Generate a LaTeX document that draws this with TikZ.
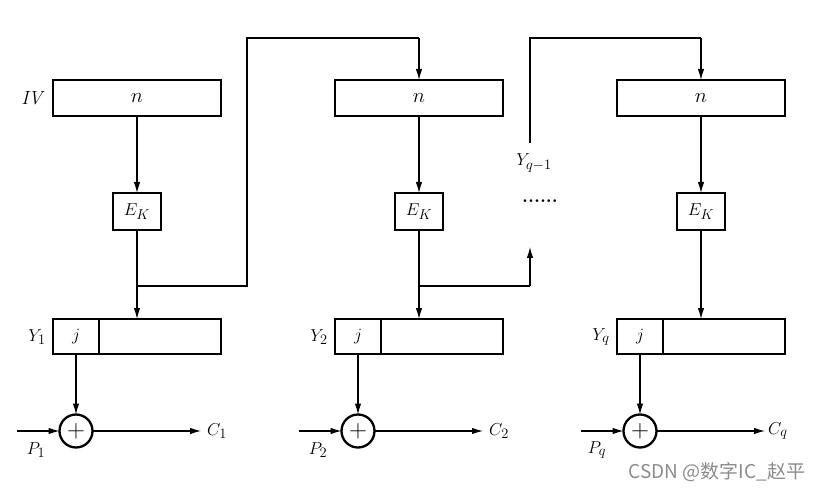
\documentclass[tikz,border=0pt]{standalone}
\usepackage{fontspec}
\newfontfamily\cjk{Noto Sans CJK SC}
\usetikzlibrary{arrows.meta}
\begin{document}
\begin{tikzpicture}[x=1pt,y=-1pt,
  font=\fontsize{19}{22}\selectfont,
  tbox/.style={draw, line width=2.3pt, inner sep=0pt, outer sep=0pt},
  nbox/.style={tbox, minimum width=168pt, minimum height=36pt, font=\fontsize{21}{24}\selectfont},
  ebox/.style={tbox, minimum width=48pt, minimum height=37pt},
  jbox/.style={tbox, minimum width=46pt, minimum height=35pt},
  rbox/.style={tbox, minimum width=122pt, minimum height=35pt},
  xorc/.style={draw, circle, line width=2.3pt, minimum size=33pt, inner sep=0pt, outer sep=0pt, font=\fontsize{25}{25}\selectfont},
  ln/.style={line width=1.1pt},
  arr/.style={ln, -{Latex[length=11pt,width=6.5pt]}},
  lbl/.style={inner sep=0pt}]
\useasboundingbox (0,0) rectangle (823,492);
\foreach \i/\c in {1/137, 2/419, 3/701}{
  \node[nbox] (n\i) at (\c,98) {$n$};
  \node[ebox] (e\i) at (\c,211.5) {$E_K$};
  \node[jbox] (j\i) at ({\c-61},336.5) {$j$};
  \node[rbox] (r\i) at ({\c+23},336.5) {};
  \node[xorc] (x\i) at ({\c-61},431) {$+$};
  \coordinate (p\i) at ({\c-120},431);
  \coordinate (c\i) at ({\c+64},431);
  \draw[arr] (n\i.south) -- (e\i.north);
  \draw[arr] (e\i.south) -- (e\i.south |- r\i.north);
  \draw[arr] (j\i.south) -- (x\i.north);
  \draw[arr] (p\i) -- (x\i.west);
  \draw[arr] (x\i.east) -- (c\i);
}
% labels
\node[lbl] (iv) at (33,98) {\textit{IV}};
\node[lbl] (ly1) at (37,337) {$Y_1$};
\node[lbl] (ly2) at (319,337) {$Y_2$};
\node[lbl] (ly3) at (601,337) {$Y_q$};
\node[lbl] (lp1) at (36,450) {$P_1$};
\node[lbl] (lp2) at (318,450) {$P_2$};
\node[lbl] (lp3) at (597,450) {$P_q$};
\node[lbl,anchor=west] (lc1) at (207,431) {$C_1$};
\node[lbl,anchor=west] (lc2) at (489,431) {$C_2$};
\node[lbl,anchor=west] (lc3) at (768,431) {$C_q$};
% feedback 1 -> 2
\coordinate (b1) at (137,286);
\coordinate (k1) at (247,286);
\coordinate (k2) at (247,38);
\coordinate (k3) at (419,38);
\draw[ln] (b1) -- (k1) -- (k2) -- (k3);
\draw[arr] (k3) -- (n2.north);
% branch 2 -> dots
\coordinate (b2) at (419,286);
\coordinate (k4) at (530,286);
\coordinate (k5) at (530,247);
\draw[ln] (b2) -- (k4);
\draw[arr] (k4) -- (k5);
\node[lbl] (dots) at (540,201) {\textbf{......}};
% Y_{q-1} -> 3
\node[lbl] (lyq1) at (534,163) {$Y_{q-1}$};
\coordinate (k6) at (530,143);
\coordinate (k7) at (530,38);
\coordinate (k8) at (701,38);
\draw[ln] (k6) -- (k7) -- (k8);
\draw[arr] (k8) -- (n3.north);
% watermark
\node[lbl, text=black!45] (wm) at (717,472) {\fontsize{19}{22}\selectfont\cjk CSDN @数字IC\_赵平};
\end{tikzpicture}
\end{document}
